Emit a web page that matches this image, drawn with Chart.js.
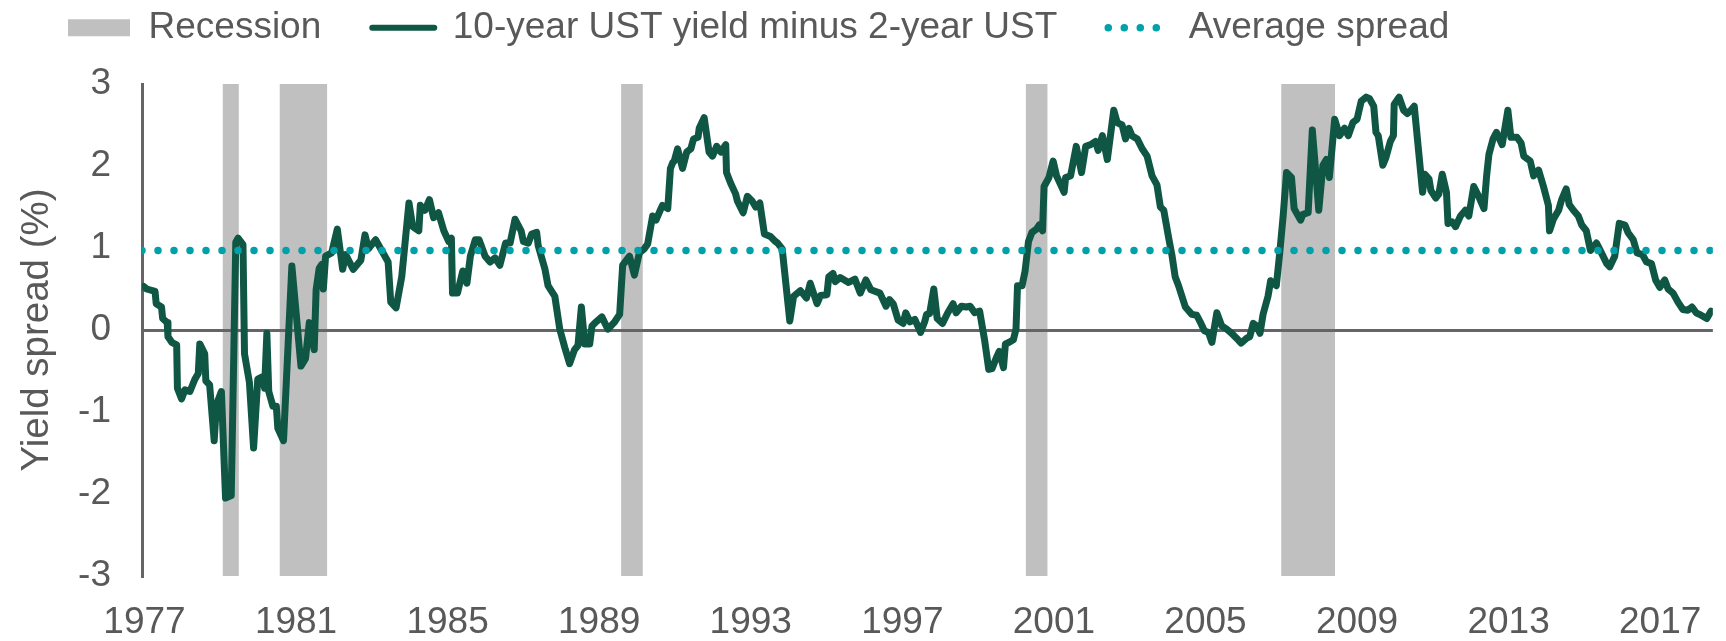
<!DOCTYPE html>
<html>
<head>
<meta charset="utf-8">
<title>10-year minus 2-year UST spread</title>
<script src="https://cdn.jsdelivr.net/npm/chart.js@4.4.1/dist/chart.umd.min.js"></script>
<style>
  html, body { margin: 0; padding: 0; background: #fff; }
  #chart { display: block; }
</style>
</head>
<body>
<canvas id="chart" width="1726" height="641"></canvas>
<script>
// Spread readings (decimal years, %), taken off the original chart
const spreadDates = [
  1977.92, 1978.00, 1978.22, 1978.25, 1978.39, 1978.42, 1978.54, 1978.56, 1978.66, 1978.79,
  1978.81, 1978.92, 1979.01, 1979.14, 1979.27, 1979.36, 1979.40, 1979.53, 1979.56, 1979.66,
  1979.78, 1979.84, 1979.97, 1980.08, 1980.23, 1980.35, 1980.41, 1980.54, 1980.58, 1980.71,
  1980.82, 1980.93, 1981.06, 1981.11, 1981.17, 1981.22, 1981.33, 1981.42, 1981.46, 1981.61,
  1981.83, 1982.07, 1982.19, 1982.29, 1982.42, 1982.47, 1982.55, 1982.62, 1982.66, 1982.72,
  1982.88, 1983.03, 1983.17, 1983.25, 1983.45, 1983.65, 1983.76, 1983.85, 1984.04, 1984.26,
  1984.37, 1984.44, 1984.58, 1984.73, 1984.92, 1985.02, 1985.18, 1985.22, 1985.34, 1985.46,
  1985.57, 1985.70, 1985.84, 1985.97, 1986.04, 1986.07, 1986.20, 1986.34, 1986.45, 1986.54,
  1986.67, 1986.77, 1986.93, 1987.06, 1987.19, 1987.32, 1987.47, 1987.59, 1987.72, 1987.88,
  1987.94, 1988.07, 1988.16, 1988.29, 1988.33, 1988.51, 1988.59, 1988.77, 1988.90, 1989.03,
  1989.16, 1989.29, 1989.38, 1989.47, 1989.56, 1989.69, 1989.75, 1989.86, 1990.01, 1990.17,
  1990.35, 1990.48, 1990.56, 1990.74, 1990.87, 1991.00, 1991.13, 1991.22, 1991.35, 1991.44,
  1991.57, 1991.61, 1991.75, 1991.82, 1991.88, 1991.92, 1992.01, 1992.14, 1992.25, 1992.36,
  1992.43, 1992.55, 1992.58, 1992.71, 1992.84, 1992.93, 1993.04, 1993.15, 1993.28, 1993.30,
  1993.41, 1993.54, 1993.59, 1993.74, 1993.85, 1993.98, 1994.07, 1994.18, 1994.30, 1994.46,
  1994.59, 1994.65, 1994.77, 1994.97, 1995.07, 1995.25, 1995.41, 1995.51, 1995.69, 1995.78,
  1995.95, 1996.00, 1996.11, 1996.17, 1996.30, 1996.52, 1996.69, 1996.83, 1996.98, 1997.11,
  1997.35, 1997.51, 1997.60, 1997.70, 1997.83, 1997.96, 1998.03, 1998.14, 1998.27, 1998.42,
  1998.53, 1998.58, 1998.66, 1998.77, 1998.86, 1999.00, 1999.14, 1999.28, 1999.36, 1999.50,
  1999.63, 1999.73, 1999.85, 1999.98, 2000.11, 2000.22, 2000.31, 2000.41, 2000.50, 2000.61,
  2000.66, 2000.76, 2000.87, 2000.94, 2000.98, 2001.10, 2001.18, 2001.27, 2001.36, 2001.48,
  2001.55, 2001.64, 2001.68, 2001.81, 2001.92, 2002.01, 2002.12, 2002.21, 2002.25, 2002.38,
  2002.53, 2002.67, 2002.78, 2002.91, 2003.04, 2003.11, 2003.22, 2003.35, 2003.52, 2003.61,
  2003.74, 2003.83, 2003.92, 2004.00, 2004.14, 2004.27, 2004.40, 2004.53, 2004.66, 2004.75,
  2004.84, 2004.97, 2005.06, 2005.14, 2005.23, 2005.41, 2005.58, 2005.71, 2005.80, 2005.91,
  2006.02, 2006.11, 2006.24, 2006.37, 2006.50, 2006.63, 2006.76, 2006.88, 2007.03, 2007.11,
  2007.20, 2007.29, 2007.38, 2007.46, 2007.59, 2007.66, 2007.81, 2007.90, 2007.99, 2008.08,
  2008.21, 2008.28, 2008.45, 2008.51, 2008.65, 2008.76, 2008.82, 2008.93, 2009.04, 2009.13,
  2009.21, 2009.35, 2009.48, 2009.61, 2009.71, 2009.83, 2009.94, 2010.05, 2010.18, 2010.27,
  2010.38, 2010.44, 2010.50, 2010.62, 2010.70, 2010.82, 2010.90, 2010.92, 2011.05, 2011.17,
  2011.27, 2011.36, 2011.45, 2011.67, 2011.73, 2011.84, 2011.89, 2012.02, 2012.10, 2012.19,
  2012.30, 2012.34, 2012.45, 2012.54, 2012.67, 2012.80, 2012.89, 2013.02, 2013.15, 2013.29,
  2013.36, 2013.42, 2013.53, 2013.62, 2013.68, 2013.77, 2013.92, 2014.00, 2014.16, 2014.27,
  2014.34, 2014.51, 2014.60, 2014.73, 2014.86, 2014.99, 2015.02, 2015.12, 2015.26, 2015.34,
  2015.46, 2015.54, 2015.65, 2015.78, 2015.87, 2015.99, 2016.10, 2016.26, 2016.39, 2016.53,
  2016.61, 2016.74, 2016.86, 2017.01, 2017.09, 2017.23, 2017.33, 2017.47, 2017.58, 2017.71,
  2017.82, 2017.93, 2018.06, 2018.15, 2018.28, 2018.41, 2018.54, 2018.67, 2018.78, 2018.89,
  2019.02, 2019.17, 2019.28
];
const spreadValues = [
  0.53, 0.50, 0.47, 0.32, 0.28, 0.14, 0.09, -0.08, -0.15, -0.18,
  -0.71, -0.84, -0.73, -0.75, -0.60, -0.53, -0.17, -0.29, -0.62, -0.67,
  -1.35, -0.91, -0.75, -2.05, -2.02, 1.07, 1.12, 1.04, -0.29, -0.64,
  -1.44, -0.60, -0.57, -0.71, -0.04, -0.75, -0.93, -0.93, -1.20, -1.35,
  0.78, -0.44, -0.35, 0.09, -0.24, 0.49, 0.75, 0.80, 0.50, 0.90,
  0.94, 1.23, 0.74, 0.92, 0.74, 0.85, 1.16, 0.99, 1.10, 0.92,
  0.83, 0.34, 0.27, 0.65, 1.55, 1.26, 1.21, 1.52, 1.46, 1.59,
  1.37, 1.43, 1.21, 1.08, 1.12, 0.45, 0.45, 0.72, 0.57, 0.90,
  1.10, 1.10, 0.90, 0.83, 0.88, 0.79, 1.06, 1.06, 1.35, 1.21,
  1.08, 1.06, 1.17, 1.19, 1.03, 0.74, 0.54, 0.41, 0.01, -0.21,
  -0.41, -0.24, -0.19, 0.28, -0.17, -0.17, 0.05, 0.10, 0.16, 0.01,
  0.10, 0.19, 0.79, 0.90, 0.67, 0.94, 0.99, 1.05, 1.39, 1.34,
  1.48, 1.52, 1.48, 1.97, 2.04, 2.06, 2.21, 1.97, 2.17, 2.21,
  2.33, 2.35, 2.46, 2.59, 2.17, 2.12, 2.24, 2.17, 2.26, 1.92,
  1.79, 1.66, 1.57, 1.43, 1.63, 1.57, 1.50, 1.55, 1.17, 1.14,
  1.08, 1.06, 0.99, 0.11, 0.41, 0.48, 0.39, 0.57, 0.32, 0.42,
  0.43, 0.65, 0.69, 0.59, 0.64, 0.58, 0.62, 0.45, 0.61, 0.49,
  0.45, 0.29, 0.37, 0.32, 0.12, 0.08, 0.21, 0.10, 0.13, -0.03,
  0.10, 0.19, 0.20, 0.50, 0.14, 0.08, 0.21, 0.32, 0.21, 0.29,
  0.28, 0.29, 0.21, 0.23, -0.12, -0.48, -0.47, -0.35, -0.26, -0.46,
  -0.17, -0.15, -0.12, 0.01, 0.54, 0.54, 0.72, 1.08, 1.19, 1.23,
  1.28, 1.21, 1.75, 1.86, 2.06, 1.88, 1.77, 1.68, 1.86, 1.88,
  2.24, 1.92, 2.24, 2.26, 2.30, 2.19, 2.37, 2.08, 2.68, 2.53,
  2.50, 2.33, 2.46, 2.37, 2.33, 2.21, 2.12, 1.88, 1.77, 1.50,
  1.46, 1.12, 0.90, 0.65, 0.54, 0.28, 0.19, 0.18, 0.10, -0.01,
  -0.03, -0.15, 0.21, 0.05, 0.01, -0.04, -0.10, -0.16, -0.10, -0.08,
  0.08, 0.05, -0.04, 0.19, 0.41, 0.60, 0.54, 0.94, 1.39, 1.92,
  1.86, 1.48, 1.34, 1.41, 1.43, 2.44, 2.10, 1.46, 2.01, 2.08,
  1.86, 2.57, 2.37, 2.46, 2.37, 2.53, 2.57, 2.79, 2.84, 2.82,
  2.73, 2.41, 2.37, 2.01, 2.10, 2.30, 2.37, 2.75, 2.84, 2.68,
  2.64, 2.68, 2.73, 1.68, 1.90, 1.84, 1.70, 1.61, 1.66, 1.90,
  1.68, 1.30, 1.32, 1.26, 1.39, 1.46, 1.39, 1.75, 1.63, 1.48,
  1.88, 2.14, 2.33, 2.41, 2.35, 2.26, 2.68, 2.35, 2.35, 2.28,
  2.12, 2.06, 1.88, 1.95, 1.75, 1.52, 1.21, 1.35, 1.46, 1.59,
  1.72, 1.53, 1.46, 1.39, 1.28, 1.21, 0.97, 1.06, 0.94, 0.81,
  0.77, 0.90, 1.30, 1.28, 1.19, 1.10, 0.94, 0.92, 0.83, 0.81,
  0.61, 0.52, 0.61, 0.50, 0.45, 0.34, 0.25, 0.24, 0.28, 0.21,
  0.18, 0.14, 0.23
];

// Recession shading (decimal years)
const recessionStart = [1980.00, 1981.51, 1990.52, 2001.20, 2007.94];
const recessionEnd   = [1980.43, 1982.76, 1991.09, 2001.77, 2009.36];

const averageSpread = 0.97;
const tickYears = [1977, 1981, 1985, 1989, 1993, 1997, 2001, 2005, 2009, 2013, 2017];

const X_MIN = 1977.875, X_MAX = 2019.33;
const Y_MIN = -3, Y_MAX = 3;
const TICK_OFFSET = 0.94; // category labels sit on December of each year

const GREEN = '#0f5744';
const TEAL = '#00a1ab';
const BAR_GREY = '#c0c0c0';
const AXIS_GREY = '#646469';
const TEXT_GREY = '#595959';

Chart.defaults.font.family = "'Liberation Sans', Arial, sans-serif";
Chart.defaults.font.size = 37;
Chart.defaults.color = TEXT_GREY;

const recessionPoints = [];
recessionStart.forEach((s, i) => {
  const e = recessionEnd[i];
  recessionPoints.push({ x: s, y: Y_MIN }, { x: s, y: Y_MAX }, { x: e, y: Y_MAX }, { x: e, y: Y_MIN });
});

const spreadPoints = spreadDates.map((x, i) => ({ x, y: spreadValues[i] }));
const averagePoints = [
  { x: X_MIN, y: averageSpread },
  { x: spreadDates[spreadDates.length - 1], y: averageSpread }
];

// extra room between the legend row and the plot
const legendSpacer = {
  id: 'legendSpacer',
  beforeInit(chart) {
    const fit = chart.legend.fit;
    chart.legend.fit = function () {
      fit.call(this);
      this.height += 27.8;
    };
  }
};

new Chart(document.getElementById('chart'), {
  type: 'line',
  data: {
    datasets: [
      {
        label: 'Recession',
        data: recessionPoints,
        fill: 'start',
        backgroundColor: BAR_GREY,
        borderColor: 'rgba(0,0,0,0)',
        borderWidth: 0,
        pointRadius: 0,
        order: 3
      },
      {
        label: '10-year UST yield minus 2-year UST',
        data: spreadPoints,
        borderColor: GREEN,
        backgroundColor: GREEN,
        borderWidth: 7,
        borderJoinStyle: 'round',
        borderCapStyle: 'round',
        pointRadius: 0,
        tension: 0,
        order: 2
      },
      {
        label: 'Average spread',
        data: averagePoints,
        borderColor: TEAL,
        backgroundColor: TEAL,
        borderWidth: 7.5,
        borderDash: [0, 16],
        borderCapStyle: 'round',
        pointRadius: 0,
        order: 1
      }
    ]
  },
  options: {
    responsive: false,
    animation: false,
    events: [],
    devicePixelRatio: 1,
    layout: { padding: { top: -41.8, left: 17, right: 5, bottom: -28.4 } },
    plugins: {
      filler: { drawTime: 'beforeDraw' },
      tooltip: { enabled: false },
      legend: {
        position: 'top',
        align: 'start',
        labels: {
          usePointStyle: true,
          pointStyleWidth: 62,
          boxHeight: 17,
          padding: 51,
          color: TEXT_GREY,
          sort: (a, b) => a.datasetIndex - b.datasetIndex,
          generateLabels(chart) {
            return Chart.defaults.plugins.legend.labels.generateLabels(chart).map(item => {
              const ds = chart.data.datasets[item.datasetIndex];
              if (ds.fill) {
                return { ...item, pointStyle: 'rect', fillStyle: ds.backgroundColor, strokeStyle: ds.backgroundColor, lineWidth: 0 };
              }
              return {
                ...item,
                pointStyle: 'line',
                strokeStyle: ds.borderColor,
                lineWidth: ds.borderDash ? ds.borderWidth : 6,
                lineDash: ds.borderDash || [],
                lineCap: 'round'
              };
            });
          }
        }
      }
    },
    scales: {
      x: {
        type: 'linear',
        min: X_MIN,
        max: X_MAX,
        grid: { display: false, drawTicks: false },
        border: { display: false },
        afterBuildTicks: axis => {
          axis.ticks = tickYears.map(y => ({ value: y + TICK_OFFSET }));
        },
        ticks: {
          padding: 24.5,
          maxRotation: 0,
          autoSkip: false,
          callback: v => String(Math.floor(v))
        }
      },
      y: {
        min: Y_MIN,
        max: Y_MAX,
        ticks: { stepSize: 1, padding: 31 },
        grid: {
          drawTicks: false,
          lineWidth: 3,
          color: c => (c.tick && c.tick.value === 0 ? AXIS_GREY : 'rgba(0,0,0,0)')
        },
        border: { display: true, color: AXIS_GREY, width: 3 },
        title: {
          display: true,
          text: 'Yield spread (%)',
          font: { size: 38.5 },
          padding: { top: -3, bottom: 0 }
        },
        afterFit: axis => { axis.width = 125; }
      }
    }
  },
  plugins: [legendSpacer]
});
</script>
</body>
</html>
